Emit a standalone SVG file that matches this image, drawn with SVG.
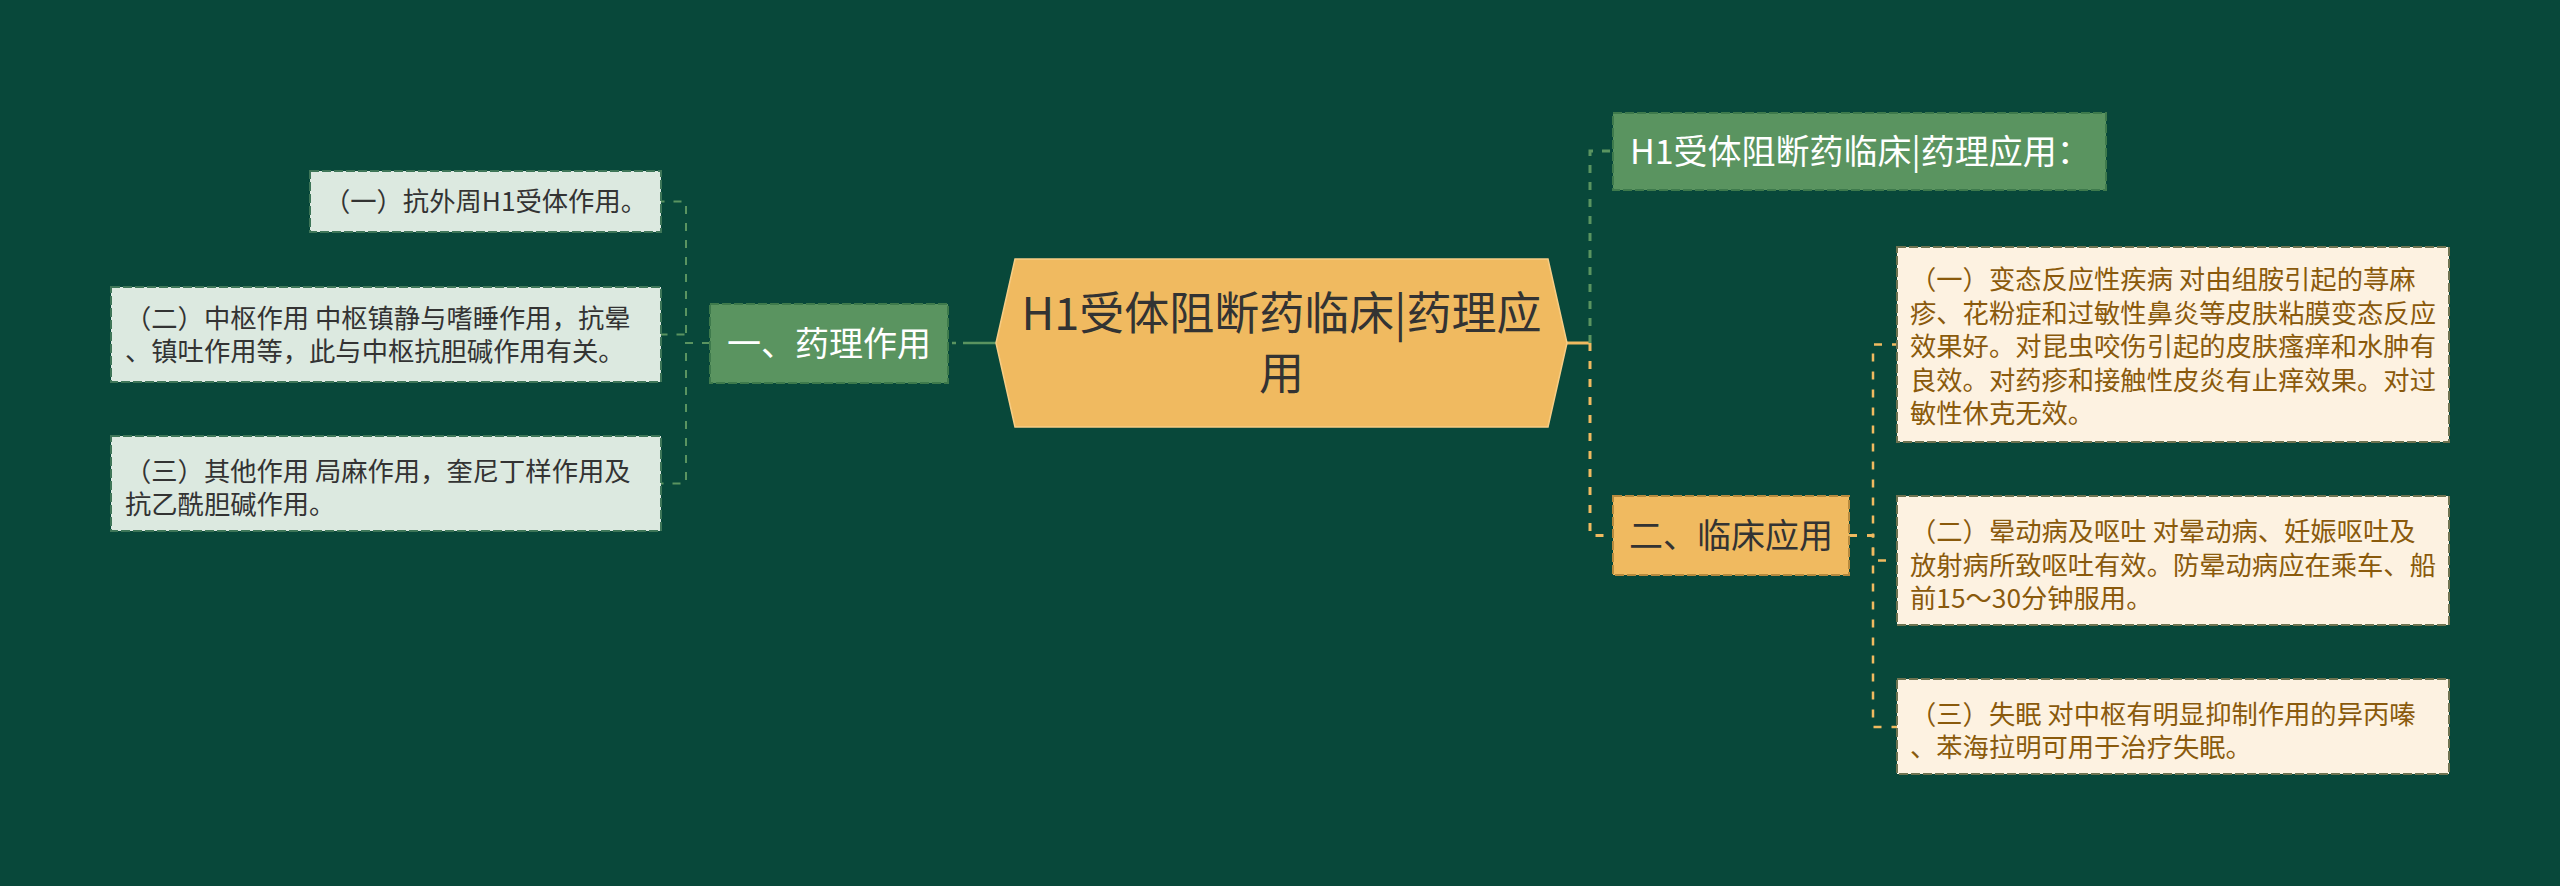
<svg xmlns="http://www.w3.org/2000/svg" width="2560" height="886" viewBox="0 0 2560 886">
<defs>
<style>
text{font-family:"Noto Sans CJK SC","Noto Sans",sans-serif;}
.leafL rect{fill:#DCE9E0;stroke:#3E7658;stroke-width:2;stroke-dasharray:9 3;}
.leafL text{fill:#333333;font-size:26.3px;}
.leafR rect{fill:#FDF2E1;stroke:#6E7350;stroke-width:2;stroke-dasharray:9 3;}
.leafR text{fill:#8A5A0C;font-size:26.3px;}
.main-g rect{fill:#5A9460;stroke:#3E7A4C;stroke-width:2;stroke-dasharray:9 3;}
.main-g text{fill:#FFFFFF;font-size:34px;}
.main-o rect{fill:#F0BA60;stroke:#B68A3E;stroke-width:2;stroke-dasharray:9 3;}
.main-o text{fill:#333333;font-size:34px;}
.cg{fill:none;stroke:#5A9460;stroke-width:2;stroke-dasharray:8 9;}
.co{fill:none;stroke:#F0BA60;stroke-width:3;stroke-dasharray:8 10;}
</style>
</defs>
<rect x="0" y="0" width="2560" height="886" fill="#08483A"/>

<g id="connectors">
  <path d="M996,343 H948" fill="none" stroke="#5A9460" stroke-width="2.5" stroke-dasharray="33 7 4 20"/>
  <path class="cg" d="M710,343 H686 V201.5 H661"/>
  <path class="cg" d="M710,343 H686 V334.5 H661"/>
  <path class="cg" d="M710,343 H686 V483.5 H661"/>
  <path d="M1567,343 H1590" fill="none" stroke="#F0BA60" stroke-width="3"/>
  <path class="cg" d="M1590,343 V151 H1613" style="stroke-width:3"/>
  <path class="co" d="M1590,343 V535.5 H1613"/>
  <path class="co" d="M1849,535.5 H1873 V344.5 H1897" style="stroke-width:2.5"/>
  <path class="co" d="M1849,535.5 H1873 V560.5 H1897" style="stroke-width:2.5"/>
  <path class="co" d="M1849,535.5 H1873 V727 H1897" style="stroke-width:2.5"/>
</g>

<g id="center">
  <polygon points="996,343 1015,259 1548,259 1567,343 1548,427 1015,427" fill="#F0BA60" stroke="#F7CD85" stroke-width="1.5"/>
  <text font-size="45" fill="#333333" text-anchor="middle"><tspan x="1281.5" y="330">H1受体阻断药临床|药理应</tspan><tspan x="1281.5" y="390">用</tspan></text>
</g>

<g id="node-yaoli" class="main-g">
  <rect x="710" y="304" width="238" height="79"/>
  <text x="829" y="356" text-anchor="middle">一、药理作用</text>
</g>

<g id="node-l1" class="leafL">
  <rect x="310" y="171" width="351" height="61"/>
  <text x="485.5" y="211" text-anchor="middle">（一）抗外周H1受体作用。</text>
</g>

<g id="node-l2" class="leafL">
  <rect x="111" y="287" width="550" height="95"/>
  <text><tspan x="125" y="328">（二）中枢作用 中枢镇静与嗜睡作用，抗晕</tspan><tspan x="125" y="361">、镇吐作用等，此与中枢抗胆碱作用有关。</tspan></text>
</g>

<g id="node-l3" class="leafL">
  <rect x="111" y="436" width="550" height="95"/>
  <text><tspan x="125" y="481">（三）其他作用 局麻作用，奎尼丁样作用及</tspan><tspan x="125" y="514">抗乙酰胆碱作用。</tspan></text>
</g>

<g id="node-title" class="main-g">
  <rect x="1613" y="113" width="493" height="77"/>
  <text x="1630" y="164">H1受体阻断药临床|药理应用：</text>
</g>

<g id="node-linchuang" class="main-o">
  <rect x="1613" y="496" width="236" height="79"/>
  <text x="1731" y="548" text-anchor="middle">二、临床应用</text>
</g>

<g id="node-r1" class="leafR">
  <rect x="1897" y="247" width="552" height="195"/>
  <text><tspan x="1910" y="289">（一）变态反应性疾病 对由组胺引起的荨麻</tspan><tspan x="1910" y="322.5">疹、花粉症和过敏性鼻炎等皮肤粘膜变态反应</tspan><tspan x="1910" y="356">效果好。对昆虫咬伤引起的皮肤瘙痒和水肿有</tspan><tspan x="1910" y="389.5">良效。对药疹和接触性皮炎有止痒效果。对过</tspan><tspan x="1910" y="423">敏性休克无效。</tspan></text>
</g>

<g id="node-r2" class="leafR">
  <rect x="1897" y="496" width="552" height="129"/>
  <text><tspan x="1910" y="541">（二）晕动病及呕吐 对晕动病、妊娠呕吐及</tspan><tspan x="1910" y="574.5">放射病所致呕吐有效。防晕动病应在乘车、船</tspan><tspan x="1910" y="608">前15～30分钟服用。</tspan></text>
</g>

<g id="node-r3" class="leafR">
  <rect x="1897" y="679" width="552" height="95"/>
  <text><tspan x="1910" y="724">（三）失眠 对中枢有明显抑制作用的异丙嗪</tspan><tspan x="1910" y="757">、苯海拉明可用于治疗失眠。</tspan></text>
</g>
</svg>
